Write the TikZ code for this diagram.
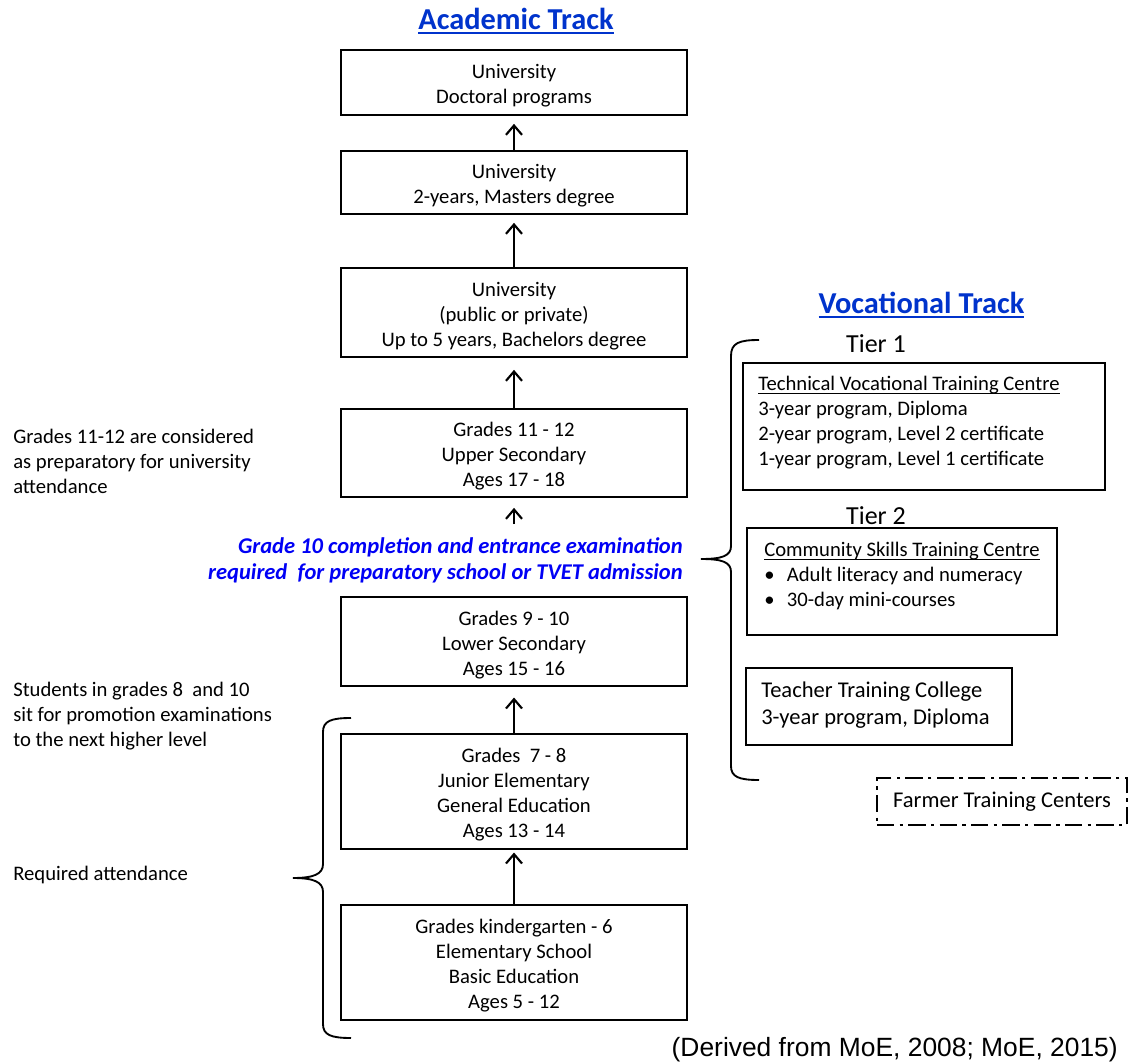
\documentclass[tikz,border=0pt]{standalone}
\usepackage{fontspec}
\setmainfont{Carlito}
\newfontfamily\arialfont{Liberation Sans}
\usetikzlibrary{arrows.meta,fit}
\definecolor{titleblue}{RGB}{0,51,204}
\definecolor{noteblue}{RGB}{0,0,245}
\newsavebox\ulbox
\newcommand\ulinetext[3]{\sbox\ulbox{#3}\rlap{\rule[-#1]{\wd\ulbox}{#2}}\usebox\ulbox}
\begin{document}
\begin{tikzpicture}[x=0.75pt,y=-0.75pt,
 body/.style={font=\fontsize{15.5}{18.75}\selectfont},
 big/.style={font=\fontsize{16.9}{20.25}\selectfont},
 abox/.style={draw, line width=1.3pt, inner sep=0pt},
 atxt/.style={inner sep=0pt, align=center, body, yshift=-2.6pt},
 vbox/.style={draw, line width=1.3pt, inner sep=0pt},
 txt/.style={inner sep=0pt, align=left, body, anchor=north west},
 arr/.style={line width=1.6pt, -{Straight Barb[length=7pt,width=12pt,line width=1.6pt]}},
 bracel/.style={line width=1.4pt},
 title/.style={inner sep=0pt, anchor=base, font=\fontsize{22.8}{27}\selectfont\bfseries, text=titleblue},
 tier/.style={inner sep=0pt, anchor=base, font=\fontsize{19.5}{23}\selectfont},
]
\useasboundingbox (0,0) rectangle (1129,1063);

% titles
\node[title] (acad) at (516,30) {\ulinetext{3pt}{1.5pt}{Academic Track}};
\node[title] (voc) at (921.5,313) {\ulinetext{3.5pt}{1.5pt}{Vocational Track}};

% academic boxes
\node[abox, fit={(341,50) (687,115)}] (doc) {};
\node[atxt] at (doc.center) {University\\Doctoral programs};
\node[abox, fit={(341,151) (687,214)}] (mast) {};
\node[atxt] at (mast.center) {University\\2-years, Masters degree};
\node[abox, fit={(341,268) (687,357)}] (bach) {};
\node[atxt] at (bach.center) {University\\(public or private)\\Up to 5 years, Bachelors degree};
\node[abox, fit={(341,409) (687,497)}] (g1112) {};
\node[atxt] at (g1112.center) {Grades 11 - 12\\Upper Secondary\\Ages 17 - 18};
\node[abox, fit={(341,597) (687,686)}] (g910) {};
\node[atxt] at (g910.center) {Grades 9 - 10\\Lower Secondary\\Ages 15 - 16};
\node[abox, fit={(341,734) (687,849)}] (g78) {};
\node[atxt] at (g78.center) {Grades\ \ 7 - 8\\Junior Elementary\\General Education\\Ages 13 - 14};
\node[abox, fit={(341,905) (687,1020)}] (gk6) {};
\node[atxt] at (gk6.center) {Grades kindergarten - 6\\Elementary School\\Basic Education\\Ages 5 - 12};

% arrows
\coordinate (exam) at (514,524);
\draw[arr, shorten >=6pt] (mast.north) -- (doc.south);
\draw[arr, shorten >=6pt] (bach.north) -- (mast.south);
\draw[arr, shorten >=9pt] (g1112.north) -- (bach.south);
\draw[arr, shorten >=7.5pt] (exam) -- (g1112.south);
\draw[arr, shorten >=8pt] (g78.north) -- (g910.south);
\draw[arr, shorten >=2pt] (gk6.north) -- (g78.south);

% left notes
\node[txt] (note1) at (13,429) {Grades 11-12 are considered\\as preparatory for university\\attendance};
\node[txt] (note2) at (13,682) {Students in grades 8\ \ and 10\\sit for promotion examinations\\to the next higher level};
\node[txt] (note3) at (13,866) {Required attendance};

% blue note
\node[inner sep=0pt, anchor=north east, align=right, font=\fontsize{16.9}{19.5}\selectfont\bfseries\itshape, text=noteblue] (exnote) at (683,537)
 {Grade 10 completion and entrance examination\\required\ \ for preparatory school or TVET admission};

% left brace
\draw[bracel] (351,718) .. controls (331,718) and (323,721) .. (323,732) -- (323,864)
 .. controls (323,874) and (314,878) .. (293,878)
 .. controls (314,878) and (323,882) .. (323,892) -- (323,1024)
 .. controls (323,1035) and (331,1038) .. (351,1038);

% vocational brace
\draw[bracel] (759,340) .. controls (739,340) and (731,343) .. (731,356) -- (731,546)
 .. controls (731,556) and (722,559) .. (701,559)
 .. controls (722,559) and (731,562) .. (731,572) -- (731,766)
 .. controls (731,777) and (739,780) .. (759,780);

% vocational side
\node[tier] (tier1lab) at (876,352) {Tier 1};
\node[vbox, fit={(743,363) (1105,490)}] (tier1) {};
\node[txt] (tier1txt) at (758,376) {\ulinetext{2.4pt}{0.7pt}{Technical Vocational Training Centre}\\3-year program, Diploma\\2-year program, Level 2 certificate\\1-year program, Level 1 certificate};

\node[tier] (tier2lab) at (876,524) {Tier 2};
\node[vbox, fit={(747,528) (1057,635)}] (tier2) {};
\node[txt] (tier2txt) at (764,542) {\ulinetext{2.4pt}{0.7pt}{Community Skills Training Centre}\\\makebox[17pt][l]{\textbullet}Adult literacy and numeracy\\\makebox[17pt][l]{\textbullet}30-day mini-courses};

\node[vbox, fit={(746,668) (1012,745)}] (teach) {};
\node[txt, big] (teachtxt) at (761,682) {Teacher Training College\\3-year program, Diploma};

\node[vbox, fit={(877,778) (1127,825)}, dash pattern=on 13pt off 4pt on 2.5pt off 4pt] (farm) {};
\node[inner sep=0pt, big] (farmtxt) at (farm.center) {Farmer Training Centers};

% source
\node[inner sep=0pt, anchor=base east, font=\arialfont\fontsize{19.8}{24}\selectfont] (src) at (1118,1056) {(Derived from MoE, 2008; MoE, 2015)};
\end{tikzpicture}
\end{document}
